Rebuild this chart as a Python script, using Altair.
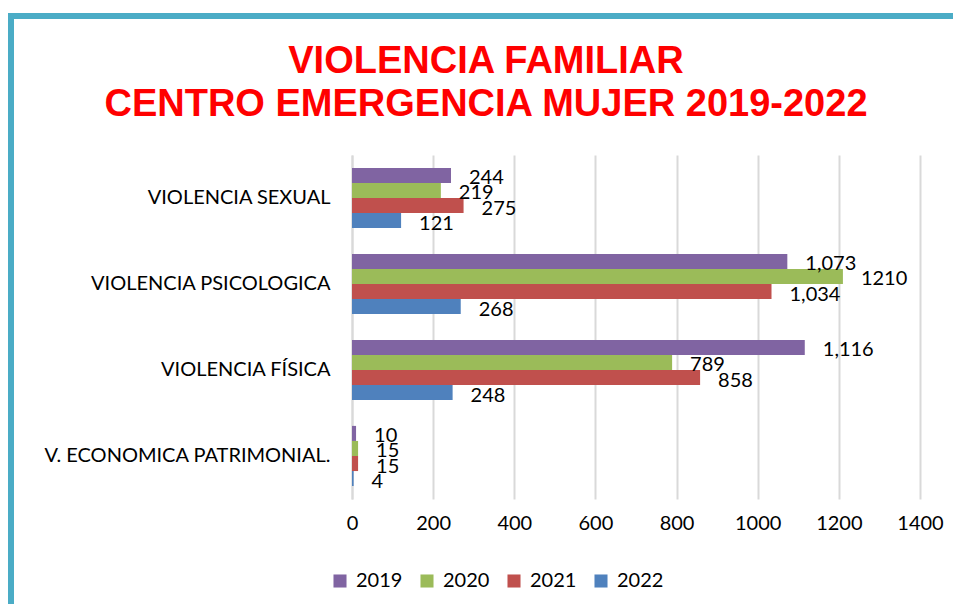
import altair as alt
import pandas as pd

categories = ["VIOLENCIA SEXUAL", "VIOLENCIA PSICOLOGICA", "VIOLENCIA FÍSICA", "V. ECONOMICA PATRIMONIAL."]
years = ["2019", "2020", "2021", "2022"]
v2019 = [244, 1073, 1116, 10]
v2020 = [219, 1210, 789, 15]
v2021 = [275, 1034, 858, 15]
v2022 = [121, 268, 248, 4]
l2019 = ["244", "1,073", "1,116", "10"]
l2020 = ["219", "1210", "789", "15"]
l2021 = ["275", "1,034", "858", "15"]
l2022 = ["121", "268", "248", "4"]
colors = ["#8064A2", "#9BBB59", "#C0504D", "#4F81BD"]
x_ticks = [0, 200, 400, 600, 800, 1000, 1200, 1400]

rows = []
for yr, vals, labs in zip(years, [v2019, v2020, v2021, v2022], [l2019, l2020, l2021, l2022]):
    for c, v, l in zip(categories, vals, labs):
        rows.append({"category": c, "year": yr, "value": v, "label": l})
df = pd.DataFrame(rows)

FONT = "Lato"

base = alt.Chart(df).encode(
    y=alt.Y("category:N", sort=categories, title=None,
            scale=alt.Scale(paddingInner=0.3, paddingOuter=0.15),
            axis=alt.Axis(labelFontSize=20, labelFont=FONT, labelColor="#000000",
                          labelPadding=22, ticks=False, domainColor="#D9D9D9",
                          domainWidth=2, labelLimit=400)),
    yOffset=alt.YOffset("year:N", sort=years, scale=alt.Scale(paddingInner=0, paddingOuter=0)),
    x=alt.X("value:Q", title=None, scale=alt.Scale(domain=[0, 1400]),
            axis=alt.Axis(values=x_ticks, labelFontSize=20, labelFont=FONT, labelColor="#000000",
                          ticks=False, domain=False, gridColor="#D9D9D9", gridWidth=2,
                          labelPadding=14, format="d", labelFlush=False)),
)

bars = base.mark_bar().encode(
    color=alt.Color("year:N", sort=years, scale=alt.Scale(domain=years, range=colors),
                    legend=alt.Legend(title=None, orient="none", legendX=-22, legendY=416,
                                      direction="horizontal", symbolType="square",
                                      symbolSize=170, symbolStrokeWidth=0,
                                      labelFontSize=20, labelFont=FONT, labelColor="#000000",
                                      labelOffset=6, columnPadding=14))
)

text = base.mark_text(align="left", baseline="middle", dx=18, dy=3, fontSize=20,
                      font=FONT, color="#000000").encode(text="label:N")

border_top = alt.Chart(df).mark_rule(color="#4BACC6", strokeWidth=5).encode(
    x=alt.value(-346), x2=alt.value(620), y=alt.value(-139))
border_left = alt.Chart(df).mark_rule(color="#4BACC6", strokeWidth=5).encode(
    x=alt.value(-341), y=alt.value(-141), y2=alt.value(460))

chart = alt.layer(bars, text, border_top, border_left).properties(
    width=568, height=344,
    autosize=alt.AutoSizeParams(type="none"),
    padding={"left": 344, "top": 147, "right": 33, "bottom": 105},
    title=alt.Title(["VIOLENCIA FAMILIAR", "CENTRO EMERGENCIA MUJER 2019-2022"],
                    font="Liberation Sans", fontSize=38, fontWeight="bold", color="#FF0000",
                    anchor="middle", dx=-150, offset=-112, lineHeight=43),
).configure_view(stroke=None)

chart.save("out.html", embed_options={"renderer": "svg", "actions": False})
